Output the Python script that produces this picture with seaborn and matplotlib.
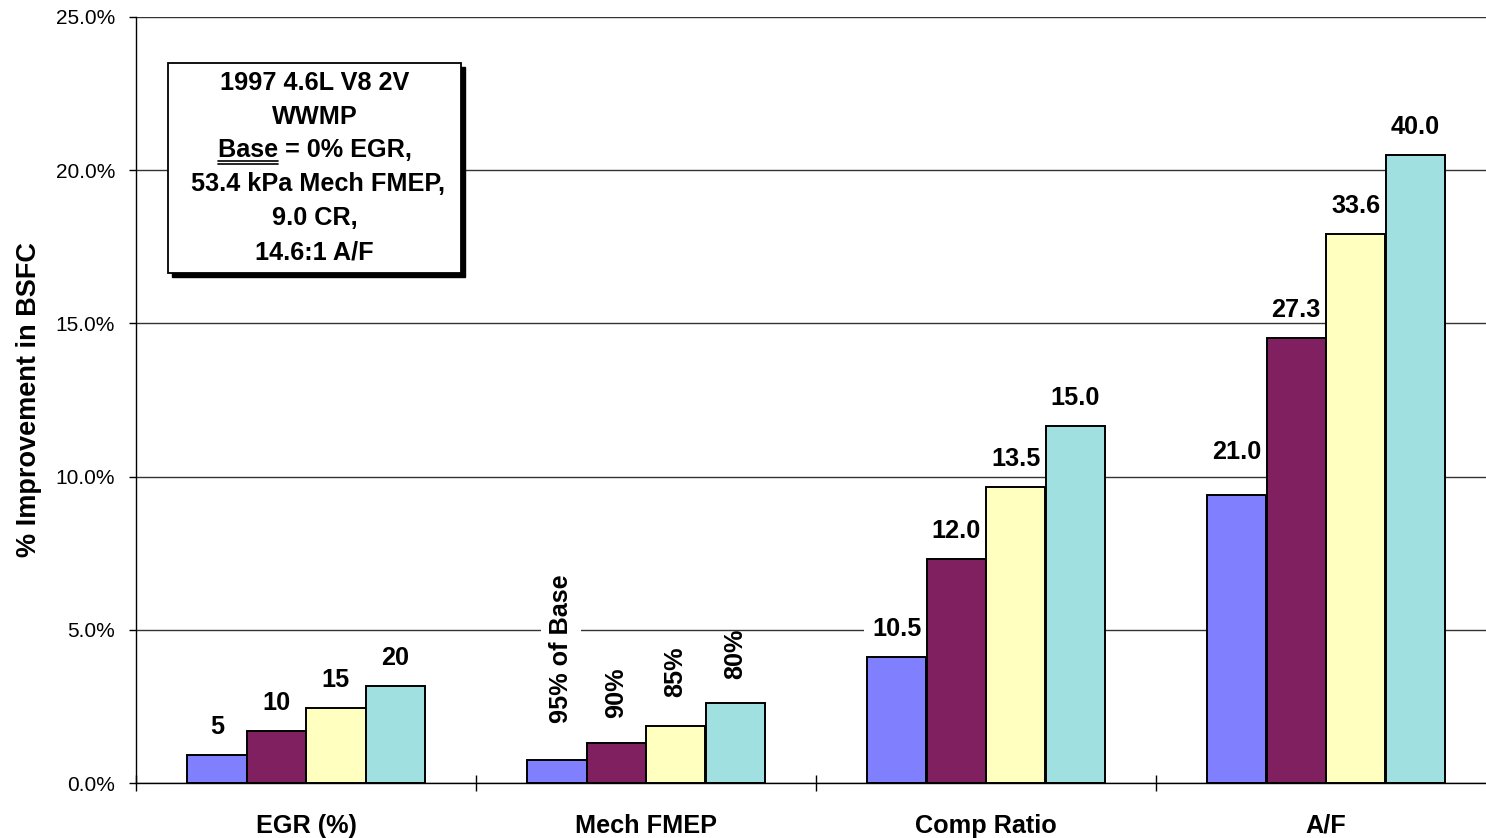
import matplotlib
matplotlib.use("Agg")
import matplotlib.pyplot as plt
import seaborn as sns
import pandas as pd
import numpy as np
from matplotlib.patches import Rectangle
from matplotlib.ticker import FuncFormatter, FixedLocator

categories = ["EGR (%)", "Mech FMEP", "Comp Ratio", "A/F"]
levels = ["L1", "L2", "L3", "L4"]
values = {
    "EGR (%)":    [0.91, 1.70, 2.45, 3.17],
    "Mech FMEP":  [0.75, 1.31, 1.86, 2.61],
    "Comp Ratio": [4.11, 7.31, 9.66, 11.65],
    "A/F":        [9.40, 14.52, 17.92, 20.50],
}
bar_labels = {
    "EGR (%)":    ["5", "10", "15", "20"],
    "Mech FMEP":  ["95% of Base", "90%", "85%", "80%"],
    "Comp Ratio": ["10.5", "12.0", "13.5", "15.0"],
    "A/F":        ["21.0", "27.3", "33.6", "40.0"],
}
colors = ["#8080FF", "#802060", "#FFFFC0", "#A0E0E0"]
yticks = [0, 5, 10, 15, 20, 25]
box_lines = ["1997 4.6L V8 2V", "WWMP", "Base = 0% EGR,", " 53.4 kPa Mech FMEP,", "9.0 CR,", "14.6:1 A/F"]

rows = []
for c in categories:
    for lv, v in zip(levels, values[c]):
        rows.append({"cat": c, "lvl": lv, "val": v})
df = pd.DataFrame(rows)

sns.set_style("white")
plt.rcParams["font.family"] = ["Liberation Sans", "DejaVu Sans"]
plt.rcParams["text.color"] = "black"
plt.rcParams["axes.labelcolor"] = "black"
plt.rcParams["xtick.color"] = "black"
plt.rcParams["ytick.color"] = "black"

BOLD = 18.2

W, H = 1486, 838
fig = plt.figure(figsize=(W / 100, H / 100), dpi=100)
ax = fig.add_axes([136 / W, 55 / H, (W - 136) / W, 766 / H])

sns.barplot(data=df, x="cat", y="val", hue="lvl", order=categories, hue_order=levels,
            palette=colors, saturation=1, width=0.7, edgecolor="black", linewidth=1.4,
            legend=False, ax=ax, zorder=3)

ax.set_xlim(-0.5, 3.5 - 10 / 340)
ax.set_ylim(0, 25)
ax.set_yticks(yticks)
ax.yaxis.set_major_formatter(FuncFormatter(lambda v, p: f"{v:.1f}%"))
ax.grid(axis="y", color="#333333", linewidth=1.0, zorder=0)
ax.set_axisbelow(True)
for s in ["top", "right"]:
    ax.spines[s].set_visible(False)
ax.spines["left"].set_color("black")
ax.spines["bottom"].set_color("black")
ax.spines["left"].set_linewidth(1.0)
ax.spines["bottom"].set_linewidth(1.0)
ax.tick_params(axis="y", which="major", left=True, length=5, width=1, direction="out",
               labelsize=15, pad=10, color="black", labelcolor="black")
ax.tick_params(axis="x", which="major", length=0, pad=22, labelcolor="black")
ax.xaxis.set_minor_locator(FixedLocator([-0.5, 0.5, 1.5, 2.5]))
ax.tick_params(axis="x", which="minor", bottom=True, length=12, width=1, direction="inout", color="black")
for t in ax.get_xticklabels():
    t.set_fontweight("bold")
    t.set_fontsize(BOLD)
ax.set_xlabel("")
ax.set_ylabel("% Improvement in BSFC", fontsize=19.5, fontweight="bold", labelpad=10)

# bar labels (offsets in points above bar tops)
rot_offsets = [27, 18, 21, 17]
rot_dx = [3, 0, 0, 0]
white_bg = {("Mech FMEP", 0), ("Comp Ratio", 0)}
for hi, cont in enumerate(ax.containers):
    for ci, patch in enumerate(cont.patches):
        cat = categories[ci]
        x = patch.get_x() + patch.get_width() / 2
        y = patch.get_height()
        txt = bar_labels[cat][hi]
        bbox = dict(boxstyle="square,pad=0.3", fc="white", ec="none") if (cat, hi) in white_bg else None
        if cat == "Mech FMEP":
            ax.annotate(txt, (x, y), xytext=(rot_dx[hi], rot_offsets[hi]), textcoords="offset points",
                        ha="center", va="bottom", rotation=90, fontsize=BOLD, fontweight="bold",
                        bbox=bbox, zorder=2)
        else:
            dy = 31 if (cat == "A/F" and hi == 0) else 20
            ax.annotate(txt, (x, y), xytext=(0, dy), textcoords="offset points",
                        ha="center", va="center", fontsize=BOLD, fontweight="bold",
                        bbox=bbox, zorder=2)

# info box
bx0, by0, bx1, by1 = 168, 63, 461, 273
shadow = Rectangle((bx0 + 4, H - by1 - 4), bx1 - bx0, by1 - by0, transform=None,
                   facecolor="black", edgecolor="black", zorder=5)
box = Rectangle((bx0, H - by1), bx1 - bx0, by1 - by0, transform=None,
                facecolor="white", edgecolor="black", linewidth=1.3, zorder=6)
fig.patches.extend([shadow, box])
cx = (bx0 + bx1) / 2
ys = [83, 117, 150, 184, 218, 252]
texts = []
for line, yy in zip(box_lines, ys):
    t = fig.text(cx / W, 1 - yy / H, line, ha="center", va="center", fontsize=BOLD,
                 fontweight="bold", zorder=7)
    texts.append(t)

fig.canvas.draw()
r = fig.canvas.get_renderer()
t = texts[2]
bb = t.get_window_extent(r)
tmp = fig.text(0, 0, "Base", fontsize=BOLD, fontweight="bold")
wb = tmp.get_window_extent(r).width
tmp.remove()
x0 = bb.x0
for dy in (3, 6):
    yline = bb.y0 + 4 - dy
    fig.add_artist(plt.Line2D([x0, x0 + wb], [yline, yline], transform=None,
                              color="black", linewidth=1.2, zorder=8))

fig.savefig("out.png", dpi=100)
